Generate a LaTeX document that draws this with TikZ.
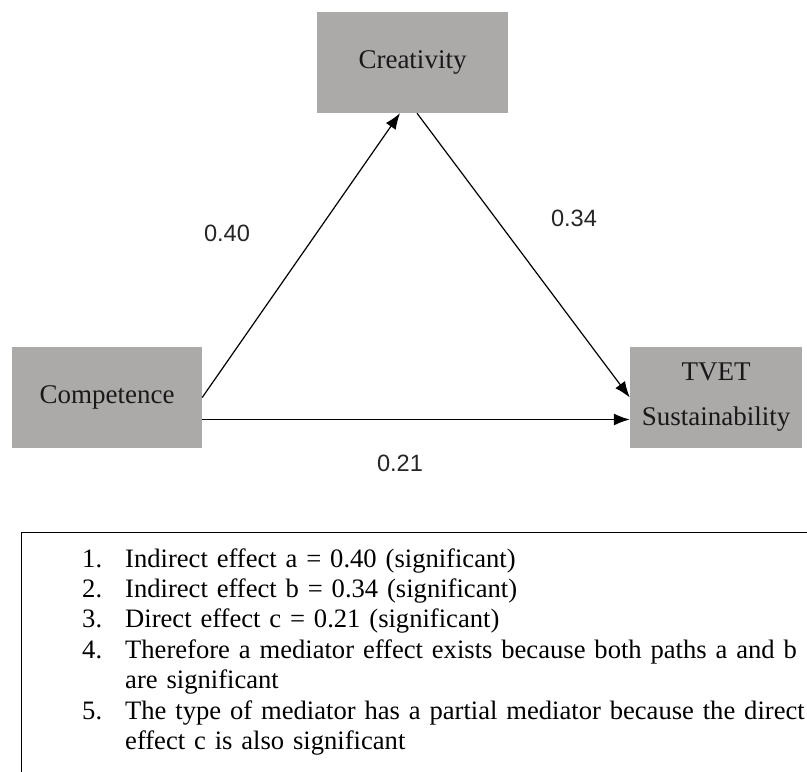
\documentclass[tikz,border=0pt]{standalone}
\usepackage{fontspec}
\setmainfont{Liberation Serif}
\newfontfamily\coeffont{Liberation Sans}
\usetikzlibrary{arrows.meta}
\definecolor{boxgrey}{RGB}{172,169,169}
\newcommand{\effectitem}[2]{\noindent\hangindent=43pt\hangafter=1\makebox[43pt][l]{#1}#2\par}

\begin{document}
\begin{tikzpicture}[x=1pt,y=-1pt,
  var/.style={fill=boxgrey,inner sep=0pt,align=center,text=black!90,
    font=\fontsize{27}{45}\selectfont},
  path/.style={line width=1.2pt,-{Latex[length=16pt,width=12pt]}},
  coef/.style={font=\coeffont\fontsize{23.6}{28}\selectfont,text=black!85},
  notebox/.style={draw,line width=1.3pt,inner sep=0pt},
  notetext/.style={inner sep=0pt,text width=730pt,align=left,
    font=\fontsize{26.6}{30.4}\selectfont}]
  \useasboundingbox (0,0) rectangle (807,772);

  \node[var,minimum width=191,minimum height=101] (creat) at (412.5,62.5) {Creativity};
  \node[var,minimum width=190,minimum height=101] (comp) at (107,397.5) {Competence};
  \node[var,minimum width=172,minimum height=101] (tvet) at (716,397.5) {TVET\\Sustainability};

  \draw[path] (comp.east) -- ([xshift=-12.5pt]creat.south);
  \draw[path] ([xshift=4.5pt]creat.south) -- (tvet.west);
  \draw[path] ([yshift=-22pt]comp.east) -- ([yshift=-22pt]tvet.west);

  \node[coef] (a) at (227,233) {0.40};
  \node[coef] (b) at (574,218) {0.34};
  \node[coef] (c) at (400,463) {0.21};

  \node[notebox,minimum width=800,minimum height=250,anchor=north west] (notes) at (21,532) {};
  \node[notetext,anchor=base west] (effects) at (82,567) {%
    \effectitem{1.}{Indirect effect a = 0.40 (significant)}
    \effectitem{2.}{Indirect effect b = 0.34 (significant)}
    \effectitem{3.}{Direct effect c = 0.21 (significant)}
    \effectitem{4.}{Therefore a mediator effect exists because both paths a and b\newline are significant}
    \effectitem{5.}{The type of mediator has a partial mediator because the direct\newline effect c is also significant}};
\end{tikzpicture}
\end{document}
